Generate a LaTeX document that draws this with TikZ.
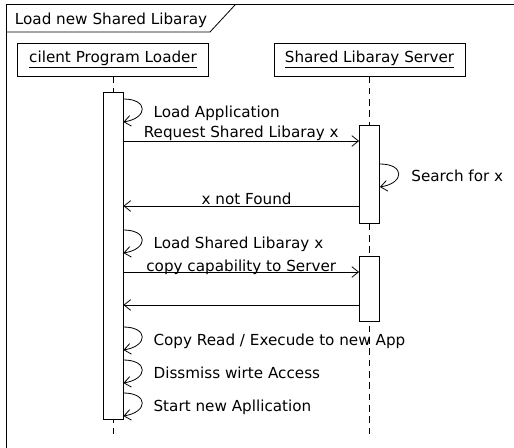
\documentclass[tikz,border=0pt]{standalone}
\usepackage{fontspec}
\setmainfont{DejaVu Sans}
\usetikzlibrary{arrows.meta, positioning}

\begin{document}
\begin{tikzpicture}[x=0.75pt, y=-0.75pt, line width=0.6pt, font=\fontsize{11.4}{13}\selectfont,
    head/.style={draw, minimum width=143.25pt, minimum height=24.75pt, inner sep=0pt},
    actbar/.style={draw, fill=white, minimum width=15pt, inner sep=0pt},
    lifeline/.style={dash pattern=on 5pt off 3.5pt},
    msg/.style={-{Straight Barb[length=5pt,width=8pt]}}]
    \useasboundingbox (0,0) rectangle (514,448);
    \clip (0,0) rectangle (514,448);
    % frame and its title tab
    \draw[line width=0.75pt] (530,5) -| (6,460);
    \node[anchor=base] (title) at (111,25) {Load new Shared Libaray};
    \draw (6,32) -- (210,32) -- (235,5);
    % the two lifelines
    \node[head] (loader) at (113,59.5) {\underline{cilent Program Loader}};
    \node[head] (server) at (369.5,59.5) {\underline{Shared Libaray Server}};
    \draw[lifeline] (loader) -- (loader |- 0,436);
    \draw[lifeline] (server) -- (server |- 0,436);
    % activation bars
    \node[actbar, minimum height=245.25pt] (loaderbar) at (113,255.5) {};
    \node[actbar, minimum height=73.5pt] (serverbarA) at (369.5,174) {};
    \node[actbar, minimum height=48.75pt] (serverbarB) at (369.5,288.5) {};
    % messages
    \draw[msg] (loaderbar.east |- 0,141) -- node[above, inner sep=0pt] (request) {Request Shared Libaray x} (serverbarA.west |- 0,141);
    \draw[msg] (serverbarA.west |- 0,206) -- node[above, inner sep=1pt, xshift=4pt] (notfound) {x not Found} (loaderbar.east |- 0,206);
    \draw[msg] (loaderbar.east |- 0,272) -- node[above, inner sep=0pt, yshift=-2pt] (copycap) {copy capability to Server} (serverbarB.west |- 0,272);
    \draw[msg] (serverbarB.west |- 0,305) -- (loaderbar.east |- 0,305);
    % self calls
    \draw[msg] (serverbarA.east |- 0,164) .. controls +(25,0) and +(25,-4) .. (serverbarA.east |- 0,187);
    \node[anchor=base west, xshift=20pt] (search) at (serverbarA.east |- 0,182) {Search for x};
    \foreach \y/\txt in {99/Load Application, 230/Load Shared Libaray x, 327/{Copy Read / Execude to new App}, 360/Dissmiss wirte Access, 393/Start new Apllication} {
        \draw[msg] (loaderbar.east |- 0,\y) .. controls +(25,0) and +(25,-4) .. (loaderbar.east |- 0,\y+23);
        \node[anchor=base west, xshift=19pt] (call\y) at (loaderbar.east |- 0,\y+19) {\txt};
    }
\end{tikzpicture}
\end{document}
